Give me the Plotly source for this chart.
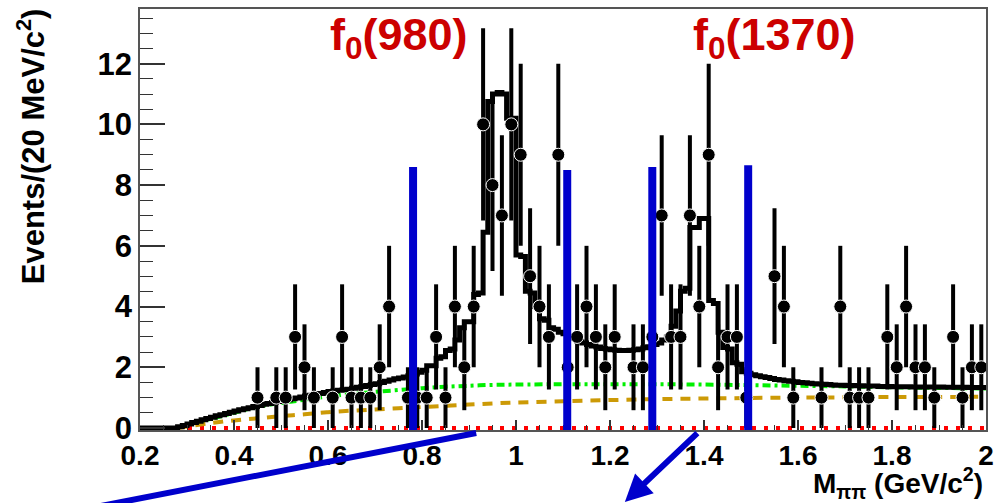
import numpy as np
import plotly.graph_objects as go

# M(pi pi) spectrum, 20 MeV/c^2 bins between 0.2 and 2.0 GeV/c^2
mass_lo, mass_hi, bin_w = 0.2, 2.0, 0.02

# observed events per 20 MeV bin (90 bins)
counts = [
    0, 0, 0, 0, 0, 0, 0, 0, 0, 0,      # 0.20 - 0.40
    0, 0, 1, 0, 1, 1, 3, 2, 1, 0,      # 0.40 - 0.60
    1, 3, 1, 1, 1, 2, 4, 0, 1, 1,      # 0.60 - 0.80
    1, 3, 1, 4, 2, 4, 10, 8, 7, 10,    # 0.80 - 1.00
    9, 5, 4, 3, 9, 2, 3, 4, 3, 2,      # 1.00 - 1.20
    3, 0, 2, 2, 3, 7, 3, 3, 7, 4,      # 1.20 - 1.40
    9, 2, 3, 3, 1, 0, 0, 5, 4, 1,      # 1.40 - 1.60
    0, 0, 1, 0, 4, 1, 1, 1, 0, 3,      # 1.60 - 1.80
    2, 4, 2, 2, 1, 0, 3, 1, 2, 2,      # 1.80 - 2.00
]

# total fit, drawn as a histogram with 10 MeV/c^2 bins (180 bins)
fit_bin_w = 0.01
fit_total = [
    0.00, 0.00, 0.00, 0.00, 0.00, 0.00, 0.00, 0.00, 0.04, 0.08,
    0.13, 0.18, 0.22, 0.27, 0.31, 0.35, 0.40, 0.44, 0.48, 0.52,
    0.56, 0.60, 0.63, 0.67, 0.71, 0.74, 0.78, 0.81, 0.84, 0.87,
    0.90, 0.93, 0.96, 0.99, 1.02, 1.05, 1.08, 1.11, 1.14, 1.17,
    1.20, 1.22, 1.24, 1.26, 1.28, 1.31, 1.34, 1.37, 1.40, 1.43,
    1.46, 1.50, 1.54, 1.58, 1.62, 1.65, 1.68, 1.72, 1.78, 1.84,
    1.90, 2.05, 2.05, 2.30, 2.35, 2.55, 2.60, 2.90, 3.30, 3.50,
    3.50, 4.40, 4.45, 6.45, 10.75, 11.00, 11.05, 11.00, 10.20, 10.20,
    5.70, 5.65, 4.50, 4.45, 4.00, 3.60, 3.55, 3.30, 3.25, 3.15,
    3.10, 3.05, 2.95, 2.85, 2.80, 2.75, 2.70, 2.67, 2.62, 2.60,
    2.58, 2.56, 2.55, 2.55, 2.56, 2.58, 2.60, 2.64, 2.68, 2.75,
    2.80, 2.90, 3.00, 3.35, 3.85, 4.50, 4.60, 6.60, 6.60, 6.90,
    6.90, 4.20, 4.10, 3.15, 2.65, 2.60, 2.15, 2.10, 1.85, 1.80,
    1.75, 1.72, 1.69, 1.66, 1.63, 1.60, 1.58, 1.56, 1.54, 1.52,
    1.50, 1.49, 1.47, 1.46, 1.45, 1.44, 1.43, 1.42, 1.41, 1.41,
    1.40, 1.40, 1.39, 1.39, 1.38, 1.38, 1.38, 1.37, 1.37, 1.37,
    1.36, 1.36, 1.36, 1.36, 1.35, 1.35, 1.35, 1.35, 1.35, 1.35,
    1.35, 1.34, 1.34, 1.34, 1.34, 1.34, 1.33, 1.33, 1.33, 1.33,
]

# non-resonant pi pi component (green dash-dot)
nonres_mass = [0.28, 0.30, 0.35, 0.40, 0.45, 0.50, 0.55, 0.60, 0.65, 0.70,
               0.75, 0.80, 0.85, 0.90, 0.95, 1.00, 1.10, 1.20, 1.30, 1.40,
               1.50, 1.60, 1.70, 1.80, 1.90, 2.00]
nonres_vals = [0.00, 0.12, 0.30, 0.50, 0.70, 0.82, 0.93, 1.04, 1.12, 1.19,
               1.25, 1.31, 1.36, 1.39, 1.42, 1.43, 1.44, 1.44, 1.44, 1.43,
               1.41, 1.39, 1.37, 1.34, 1.32, 1.30]

# combinatorial background (orange dashed)
combi_mass = [0.28, 0.30, 0.35, 0.40, 0.45, 0.50, 0.55, 0.60, 0.65, 0.70,
              0.75, 0.80, 0.85, 0.90, 0.95, 1.00, 1.10, 1.20, 1.30, 1.40,
              1.50, 1.60, 1.70, 1.80, 1.90, 2.00]
combi_vals = [0.00, 0.05, 0.16, 0.25, 0.32, 0.39, 0.45, 0.52, 0.57, 0.61,
              0.65, 0.69, 0.73, 0.77, 0.81, 0.84, 0.88, 0.92, 0.95, 0.97,
              0.99, 1.00, 1.01, 1.02, 1.02, 1.03]

# peaking background (red dotted, compatible with zero)
peaking_mass = [0.2, 2.0]
peaking_vals = [0.0, 0.0]

# mass windows used for the two resonances (blue bars)
cut_mass = [0.781, 1.109, 1.290, 1.494]
cut_top = [8.6, 8.5, 8.6, 8.65]

# resonance labels
res_labels = ["f<sub>0</sub>(980)", "f<sub>0</sub>(1370)"]
res_label_mass = [0.750, 1.551]
res_label_y = [12.85, 12.85]

x_ticks = [0.2, 0.4, 0.6, 0.8, 1.0, 1.2, 1.4, 1.6, 1.8, 2.0]
x_ticklabels = ["0.2", "0.4", "0.6", "0.8", "1", "1.2", "1.4", "1.6", "1.8", "2"]
y_ticks = [0, 2, 4, 6, 8, 10, 12]
y_ticklabels = ["0", "2", "4", "6", "8", "10", "12"]

FONT = "Liberation Sans"
BLUE = "#0000cc"
RED_TXT = "#cc0000"

counts_arr = np.array(counts, dtype=float)
centers = mass_lo + bin_w * (np.arange(len(counts)) + 0.5)
nz = counts_arr > 0

fit_edges = mass_lo + fit_bin_w * np.arange(len(fit_total) + 1)
fit_y = list(fit_total) + [fit_total[-1]]

fig = go.Figure()

fig.add_trace(go.Scatter(
    x=peaking_mass, y=peaking_vals, mode="lines",
    line=dict(color="#ff0000", width=4, dash="4px,8px"),
    hoverinfo="skip", showlegend=False))

fig.add_trace(go.Scatter(
    x=combi_mass, y=combi_vals, mode="lines", line_shape="spline",
    line=dict(color="#cc9a06", width=4, dash="10px,8px"),
    hoverinfo="skip", showlegend=False))

fig.add_trace(go.Scatter(
    x=nonres_mass, y=nonres_vals, mode="lines", line_shape="spline",
    line=dict(color="#00f000", width=4, dash="8px,4px,3px,4px"),
    hoverinfo="skip", showlegend=False))

fig.add_trace(go.Scatter(
    x=fit_edges, y=fit_y, mode="lines", line_shape="hv",
    line=dict(color="black", width=5),
    hoverinfo="skip", showlegend=False))

fig.add_trace(go.Scatter(
    x=centers[nz], y=counts_arr[nz], mode="markers",
    marker=dict(color="black", size=13, line=dict(color="white", width=1)),
    error_y=dict(type="data", array=np.sqrt(counts_arr[nz]),
                 color="black", thickness=4, width=0),
    showlegend=False))

shapes = []
for m, top in zip(cut_mass, cut_top):
    shapes.append(dict(type="line", xref="x", yref="y", x0=m, x1=m,
                       y0=-0.1, y1=top, line=dict(color=BLUE, width=8),
                       layer="above"))

# plot area in pixels: left 140, right 988, top 7, bottom 430
L, R, T, B = 140, 988, 7, 430
def px(xp):
    return (xp - L) / (R - L)
def py(yp):
    return (B - yp) / (B - T)

shapes.append(dict(type="line", xref="paper", yref="paper",
                   x0=px(100), y0=py(506.5), x1=px(477), y1=py(433),
                   line=dict(color=BLUE, width=6)))

annotations = []
for txt, xm, ym in zip(res_labels, res_label_mass, res_label_y):
    annotations.append(dict(text=txt, x=xm, y=ym, xref="x", yref="y",
                            showarrow=False, xanchor="center", yanchor="middle",
                            font=dict(family=FONT, size=45, color=RED_TXT,
                                      weight="bold")))

annotations.append(dict(
    text="Events/(20 MeV/c<sup>2</sup>)", textangle=-90,
    x=px(31), y=py(4), xref="paper", yref="paper",
    xanchor="center", yanchor="top", showarrow=False,
    font=dict(family=FONT, size=31, color="black", weight="bold")))

annotations.append(dict(
    text="M<sub>\u03c0\u03c0</sub> (GeV/c<sup>2</sup>)",
    x=px(987), y=py(483), xref="paper", yref="paper",
    xanchor="right", yanchor="middle", showarrow=False,
    font=dict(family=FONT, size=28, color="black", weight="bold")))

annotations.append(dict(
    text="", x=px(626), y=py(506), xref="paper", yref="paper",
    ax=74, ay=-74, showarrow=True, arrowhead=2, arrowsize=0.9,
    arrowwidth=6, arrowcolor=BLUE))

fig.update_layout(
    width=1001, height=503,
    margin=dict(l=L, r=1001 - R, t=T, b=503 - B),
    paper_bgcolor="white", plot_bgcolor="white",
    shapes=shapes, annotations=annotations,
    xaxis=dict(range=[mass_lo, mass_hi], showgrid=False, zeroline=False,
               showline=True, linecolor="#555555", linewidth=1.5, mirror=True,
               ticks="inside", ticklen=10, tickwidth=1.5, tickcolor="#333333",
               tickvals=x_ticks, ticktext=x_ticklabels,
               tickfont=dict(family=FONT, size=28, color="black", weight="bold"),
               minor=dict(ticks="inside", ticklen=5, dtick=0.05,
                          tickcolor="#333333", tickwidth=1.2)),
    yaxis=dict(range=[-0.066, 13.8], showgrid=False, zeroline=False,
               showline=True, linecolor="#555555", linewidth=1.5, mirror=True,
               ticks="inside", ticklen=25, tickwidth=1.5, tickcolor="#333333",
               tickvals=y_ticks, ticktext=y_ticklabels,
               tickfont=dict(family=FONT, size=31, color="black", weight="bold"),
               minor=dict(ticks="inside", ticklen=13, dtick=0.5,
                          tickcolor="#333333", tickwidth=1.2)),
)

fig.write_html("out.html")
